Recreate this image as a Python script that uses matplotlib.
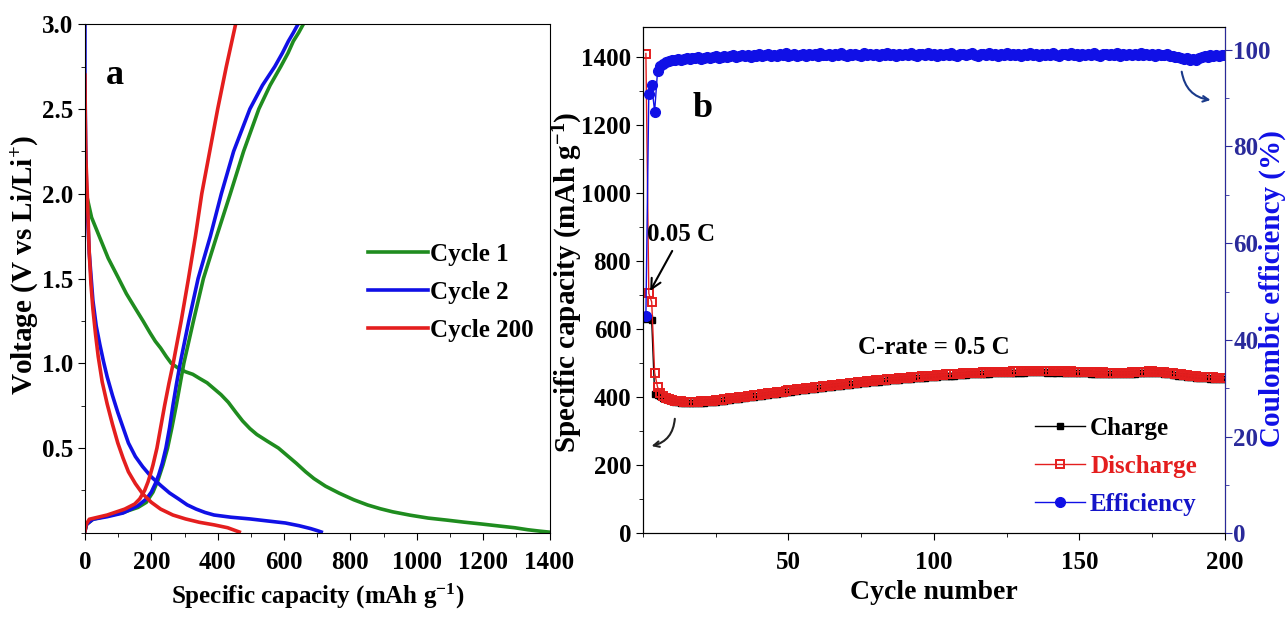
import matplotlib.pyplot as plt
from matplotlib.ticker import MultipleLocator

plt.rcParams['font.family'] = ['Liberation Serif', 'DejaVu Serif']
plt.rcParams['font.weight'] = 'bold'
plt.rcParams['axes.labelweight'] = 'bold'
plt.rcParams['mathtext.fontset'] = 'custom'
plt.rcParams['mathtext.rm'] = 'Liberation Serif:bold'
plt.rcParams['mathtext.bf'] = 'Liberation Serif:bold'
plt.rcParams['mathtext.default'] = 'bf'

# ---- panel a: voltage profiles (capacity mAh/g, voltage V)
c1_dis_cap = [0, 4, 20, 45, 70, 99, 125, 153, 175, 196, 212, 228, 245, 260, 282, 303, 325, 346, 368, 389, 410, 432, 455, 475, 497, 518, 550, 583, 610, 637, 665, 690, 725, 766, 810, 852, 890, 927, 980, 1034, 1090, 1142, 1195, 1249, 1295, 1335, 1370, 1400]
c1_dis_v = [2.05, 2.0, 1.86, 1.74, 1.62, 1.51, 1.41, 1.32, 1.25, 1.18, 1.13, 1.09, 1.04, 1.0, 0.97, 0.95, 0.935, 0.91, 0.885, 0.85, 0.815, 0.77, 0.71, 0.66, 0.615, 0.58, 0.54, 0.50, 0.455, 0.41, 0.36, 0.32, 0.275, 0.234, 0.195, 0.164, 0.142, 0.124, 0.104, 0.087, 0.075, 0.063, 0.052, 0.04, 0.03, 0.018, 0.01, 0.004]
c1_chg_cap = [0, 5, 24, 67, 115, 160, 185, 205, 220, 235, 249, 262, 275, 287, 298, 327, 357, 397, 438, 478, 524, 558, 590, 612, 628, 644, 658]
c1_chg_v = [0.01, 0.05, 0.08, 0.10, 0.12, 0.15, 0.18, 0.24, 0.31, 0.40, 0.50, 0.62, 0.75, 0.88, 1.0, 1.25, 1.5, 1.75, 2.0, 2.25, 2.5, 2.64, 2.75, 2.83, 2.9, 2.95, 3.0]

c2_dis_cap = [0, 0, 2, 5, 13, 24, 34, 45, 56, 67, 83, 99, 115, 131, 152, 174, 200, 228, 255, 282, 308, 335, 362, 389, 440, 497, 550, 604, 645, 680, 700, 712]
c2_dis_v = [3.0, 2.7, 2.3, 2.0, 1.65, 1.37, 1.22, 1.11, 1.01, 0.92, 0.81, 0.71, 0.62, 0.53, 0.45, 0.39, 0.33, 0.28, 0.235, 0.20, 0.165, 0.14, 0.12, 0.105, 0.092, 0.082, 0.07, 0.058, 0.042, 0.025, 0.013, 0.005]
c2_chg_cap = [0, 5, 24, 67, 115, 160, 185, 200, 212, 222, 233, 244, 255, 265, 276, 287, 313, 341, 378, 411, 448, 497, 535, 572, 595, 613, 628, 642]
c2_chg_v = [0.01, 0.05, 0.08, 0.095, 0.117, 0.16, 0.20, 0.24, 0.29, 0.34, 0.41, 0.50, 0.62, 0.75, 0.88, 1.0, 1.25, 1.5, 1.75, 2.0, 2.25, 2.5, 2.64, 2.75, 2.83, 2.9, 2.95, 3.0]

c200_dis_cap = [0, 1, 3, 7, 13, 18, 24, 32, 40, 52, 67, 83, 99, 115, 131, 152, 174, 200, 228, 265, 303, 345, 389, 430, 465]
c200_dis_v = [2.7, 2.45, 2.2, 2.0, 1.65, 1.47, 1.32, 1.17, 1.04, 0.89, 0.76, 0.64, 0.53, 0.44, 0.36, 0.29, 0.23, 0.18, 0.14, 0.105, 0.082, 0.062, 0.047, 0.03, 0.005]
c200_chg_cap = [0, 4, 13, 67, 120, 150, 165, 180, 190, 198, 205, 217, 228, 240, 253, 266, 290, 312, 333, 352, 376, 400, 426, 454]
c200_chg_v = [0.01, 0.05, 0.08, 0.105, 0.14, 0.17, 0.20, 0.25, 0.30, 0.35, 0.40, 0.50, 0.62, 0.75, 0.88, 1.0, 1.25, 1.5, 1.75, 2.0, 2.25, 2.5, 2.75, 3.0]

# ---- panel b: cycling
cycles = list(range(1, 201))
discharge = [
    1410, 705, 680, 472, 430, 412, 404, 399, 395, 392,
    390, 389, 388, 387, 387, 386, 386, 387, 387, 388,
    388, 389, 390, 390, 391, 392, 393, 394, 395, 397,
    398, 399, 400, 401, 402, 404, 405, 406, 407, 408,
    409, 410, 412, 413, 414, 415, 416, 417, 419, 420,
    421, 422, 423, 424, 425, 426, 427, 428, 429, 430,
    431, 432, 433, 434, 435, 436, 437, 438, 439, 440,
    441, 442, 443, 444, 445, 446, 447, 448, 449, 450,
    450, 451, 452, 453, 454, 455, 455, 456, 457, 458,
    458, 459, 460, 460, 461, 462, 462, 463, 464, 464,
    465, 466, 466, 467, 467, 468, 468, 469, 469, 470,
    470, 471, 471, 472, 472, 472, 473, 473, 473, 474,
    474, 474, 475, 475, 475, 475, 476, 476, 476, 476,
    476, 477, 477, 477, 477, 477, 477, 477, 476, 477,
    476, 476, 477, 476, 476, 475, 476, 475, 475, 475,
    474, 474, 474, 473, 473, 473, 472, 473, 472, 472,
    472, 471, 472, 471, 471, 472, 472, 473, 473, 474,
    474, 475, 475, 476, 476, 475, 475, 474, 473, 472,
    471, 470, 469, 468, 467, 466, 465, 464, 463, 462,
    461, 461, 460, 460, 459, 459, 458, 458, 457, 457]
charge = [
    630, 634, 626, 410, 408, 404, 399, 395, 391, 388,
    386, 385, 384, 383, 383, 382, 382, 383, 383, 384,
    384, 385, 386, 386, 387, 388, 389, 390, 391, 393,
    394, 395, 396, 397, 398, 400, 401, 402, 403, 404,
    405, 406, 408, 409, 410, 411, 412, 413, 415, 416,
    417, 418, 419, 420, 421, 422, 423, 424, 425, 426,
    427, 428, 429, 430, 431, 432, 433, 434, 435, 436,
    437, 438, 439, 440, 441, 442, 443, 444, 445, 446,
    446, 447, 448, 449, 450, 451, 451, 452, 453, 454,
    454, 455, 456, 456, 457, 458, 458, 459, 460, 460,
    461, 462, 462, 463, 463, 464, 464, 465, 465, 466,
    466, 467, 467, 468, 468, 468, 469, 469, 469, 470,
    470, 470, 471, 471, 471, 471, 472, 472, 472, 472,
    472, 473, 473, 473, 473, 473, 473, 473, 472, 473,
    472, 472, 473, 472, 472, 471, 472, 471, 471, 471,
    470, 470, 470, 469, 469, 469, 468, 469, 468, 468,
    468, 467, 468, 467, 467, 468, 468, 469, 469, 470,
    470, 471, 471, 472, 472, 471, 471, 470, 469, 468,
    467, 466, 465, 464, 463, 462, 461, 460, 459, 458,
    457, 457, 456, 456, 455, 455, 454, 454, 453, 453]
efficiency = [
    45.0, 90.8, 92.6, 87.2, 95.5, 96.6, 97.1, 97.4, 97.6, 97.8,
    97.9, 98.0, 97.8, 98.1, 98.2, 98.0, 98.3, 98.2, 98.4, 98.1,
    98.3, 98.5, 98.2, 98.4, 98.6, 98.3, 98.5, 98.7, 98.4, 98.6,
    98.8, 98.5, 98.7, 98.9, 98.6, 98.8, 98.5, 98.9, 98.7, 99.0,
    98.6, 98.8, 99.1, 98.7, 98.9, 98.6, 99.0, 98.8, 99.2, 98.7,
    98.9, 99.1, 98.7, 98.9, 99.0, 98.6, 99.1, 98.8, 99.0, 98.7,
    99.2, 98.8, 98.9, 99.1, 98.7, 99.0, 98.8, 99.2, 98.9, 98.7,
    99.0, 98.8, 99.1, 98.9, 98.7, 99.2, 98.8, 99.0, 98.9, 99.1,
    98.7, 99.0, 98.9, 99.2, 98.8, 99.0, 98.7, 99.1, 98.9, 99.0,
    98.8, 99.2, 98.9, 98.7, 99.1, 99.0, 98.8, 99.2, 98.9, 99.0,
    98.7, 99.1, 98.9, 99.0, 98.8, 99.2, 98.9, 98.7, 99.1, 99.0,
    98.8, 99.0, 99.2, 98.9, 98.7, 99.1, 99.0, 98.8, 99.2, 98.9,
    99.0, 98.7, 99.1, 98.9, 99.2, 98.8, 99.0, 98.9, 99.1, 98.7,
    99.0, 98.9, 99.2, 98.8, 99.0, 98.7, 99.1, 98.9, 99.0, 98.8,
    99.2, 98.9, 98.7, 99.1, 99.0, 98.8, 99.2, 98.9, 99.0, 98.7,
    99.1, 98.9, 99.0, 98.8, 99.2, 98.9, 98.7, 99.1, 99.0, 98.8,
    99.0, 98.9, 99.2, 98.7, 99.0, 98.9, 99.1, 98.8, 99.0, 98.9,
    99.2, 98.8, 99.0, 98.9, 99.1, 98.7, 99.0, 98.9, 98.8, 99.0,
    98.6, 98.7, 98.4, 98.5, 98.2, 98.0, 98.3, 97.9, 98.1, 97.8,
    98.2, 98.5, 98.7, 98.4, 98.8, 98.6, 98.9, 98.7, 98.8, 98.9]

green = '#1f8c1f'
blue = '#1010e6'
red = '#e41e1e'
navy = '#2a2a9a'

fig = plt.figure(figsize=(12.87, 6.21), dpi=100)
ax = fig.add_axes([0.066, 0.142, 0.361, 0.819])
ax.plot(c1_dis_cap, c1_dis_v, color=green, lw=2.6, label='Cycle 1')
ax.plot(c1_chg_cap, c1_chg_v, color=green, lw=2.6)
ax.plot(c2_dis_cap, c2_dis_v, color=blue, lw=2.6, label='Cycle 2')
ax.plot(c2_chg_cap, c2_chg_v, color=blue, lw=2.6)
ax.plot(c200_dis_cap, c200_dis_v, color=red, lw=2.6, label='Cycle 200')
ax.plot(c200_chg_cap, c200_chg_v, color=red, lw=2.6)
ax.set_xlim(0, 1400)
ax.set_ylim(0, 3.0)
ax.set_xticks(range(0, 1401, 200))
ax.set_yticks([0.5, 1.0, 1.5, 2.0, 2.5, 3.0])
ax.xaxis.set_minor_locator(MultipleLocator(100))
ax.yaxis.set_minor_locator(MultipleLocator(0.25))
ax.tick_params(labelsize=18, direction='out', length=5)
ax.tick_params(axis='x', pad=8)
ax.tick_params(which='minor', direction='out', length=3)
ax.set_xlabel('Specific capacity (mAh g$^{-1}$)', fontsize=18, labelpad=6)
ax.set_ylabel('Voltage (V vs Li/Li$^{+}$)', fontsize=21)
ax.yaxis.set_label_coords(-0.095, 0.527)
ax.text(0.045, 0.9, 'a', transform=ax.transAxes, fontsize=26, va='center')
ax.legend(loc='upper left', bbox_to_anchor=(0.56, 0.615), frameon=False,
          fontsize=18, handlelength=2.4, handletextpad=0.1, labelspacing=0.6)

# ---- panel b
bx = fig.add_axes([0.4996, 0.141, 0.4522, 0.815])
bx2 = bx.twinx()
bx.plot(cycles, charge, color='black', lw=1, marker='s', ms=5, label='Charge')
bx.plot(cycles, discharge, color=red, lw=1, marker='s', ms=6,
        mfc='none', mec=red, mew=1.4, label='Discharge')
bx2.plot(cycles, efficiency, color=blue, lw=1, marker='o', ms=7, label='Efficiency')
bx.set_xlim(0, 200)
bx.set_ylim(0, 1487)
bx2.set_ylim(0, 104.6)
bx.set_xticks([50, 100, 150, 200])
bx.xaxis.set_minor_locator(MultipleLocator(25))
bx.set_yticks(range(0, 1401, 200))
bx.yaxis.set_minor_locator(MultipleLocator(100))
bx2.set_yticks(range(0, 101, 20))
bx2.yaxis.set_minor_locator(MultipleLocator(10))
bx.tick_params(labelsize=18, direction='out', length=5)
bx.tick_params(axis='x', pad=8)
bx.tick_params(which='minor', direction='out', length=3)
bx2.tick_params(labelsize=18, direction='out', length=5, colors=navy, pad=1)
bx2.tick_params(which='minor', direction='out', length=3, colors=navy)
bx2.spines['right'].set_color(navy)
bx.set_xlabel('Cycle number', fontsize=20, labelpad=4)
bx.set_ylabel('Specific capacity (mAh g$^{-1}$)', fontsize=21)
bx.yaxis.set_label_coords(-0.1, 0.497)
bx2.set_ylabel('Coulombic efficiency (%)', fontsize=21, color=blue)
bx2.yaxis.set_label_coords(1.058, 0.484)
bx.text(0.085, 0.84, 'b', transform=bx.transAxes, fontsize=26, va='center')
bx.annotate('0.05 C', xy=(2, 705), xytext=(1.5, 860), fontsize=18,
            arrowprops=dict(arrowstyle='->', color='black', lw=1.5))
bx.text(100, 545, 'C-rate = 0.5 C', fontsize=18, ha='center', va='center')
bx.annotate('', xy=(2, 255), xytext=(11, 345),
            arrowprops=dict(arrowstyle='->', color='#222222', lw=1.5,
                            connectionstyle='arc3,rad=-0.4'))
bx2.annotate('', xy=(196, 89.5), xytext=(185, 96),
             arrowprops=dict(arrowstyle='->', color='#1a3a8a', lw=1.5,
                             connectionstyle='arc3,rad=0.4'))
h1, l1 = bx.get_legend_handles_labels()
h2, l2 = bx2.get_legend_handles_labels()
leg = bx2.legend(h1 + h2, l1 + l2, loc='lower left', bbox_to_anchor=(0.635, -0.01),
                 frameon=False, fontsize=18, handlelength=2.0,
                 handletextpad=0.2, labelspacing=0.6)
for t, c in zip(leg.get_texts(), ['black', red, '#1414c8']):
    t.set_color(c)

fig.savefig('out.png', dpi=100)
